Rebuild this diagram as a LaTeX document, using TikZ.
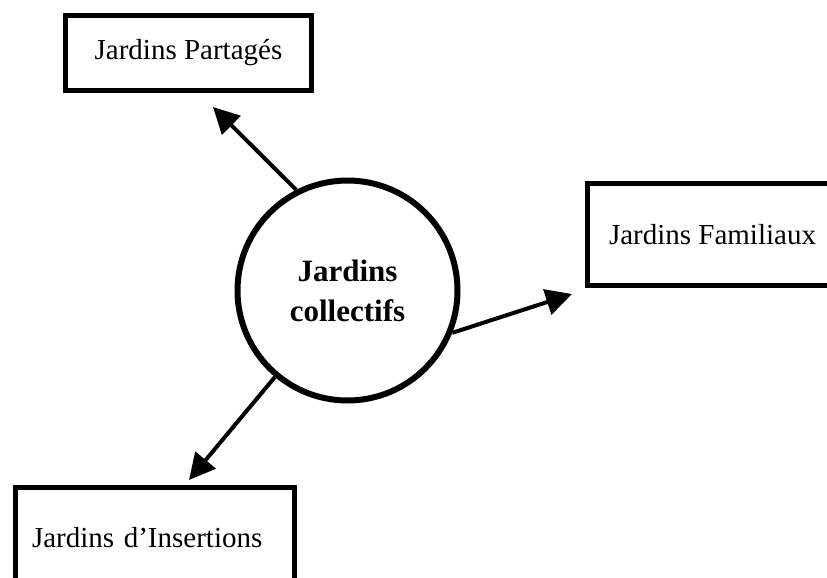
\documentclass[tikz,border=0pt]{standalone}
\usepackage{fontspec}
\setmainfont{Liberation Serif}
\usetikzlibrary{arrows.meta}

\begin{document}
\begin{tikzpicture}[x=1pt,y=-1pt,>={Triangle[length=26pt,width=26pt]}]
        \tikzstyle{jardin}=[rectangle,draw=black,line width=5pt,font=\fontsize{29}{35}\selectfont,anchor=north west]
        \tikzstyle{collectif}=[circle,draw=black,line width=6pt,minimum size=220pt,inner sep=0pt,align=center,font=\fontsize{31}{40}\selectfont\bfseries]
        \tikzstyle{fleche}=[draw,->,line width=4pt]
       \useasboundingbox (0,0) rectangle (827,578);
       \clip (0,0) rectangle (827,578);
       \begin{scope}
         \node [collectif] (c) at (347.5,290.5) {Jardins\\collectifs};
         \node [jardin,minimum width=246pt,minimum height=75pt] (partages) at (63,13) {Jardins Partagés};
         \node [jardin,inner xsep=21.5pt,minimum height=102pt] (familiaux) at (585,181) {Jardins Familiaux};
         \node [jardin,text width=246pt,align=left,inner xsep=16.5pt,minimum height=100pt] (insertions) at (13,485) {Jardins d’Insertions};

         \coordinate (p) at (213,107);
         \coordinate (f) at (572,294);
         \coordinate (i) at (189,480);

         \path[fleche] (c.117.6) -- (p);
         \path[fleche] (c.-22.5) -- (f);
         \path[fleche] (c.230) -- (i);
       \end{scope}
\end{tikzpicture}
\end{document}
